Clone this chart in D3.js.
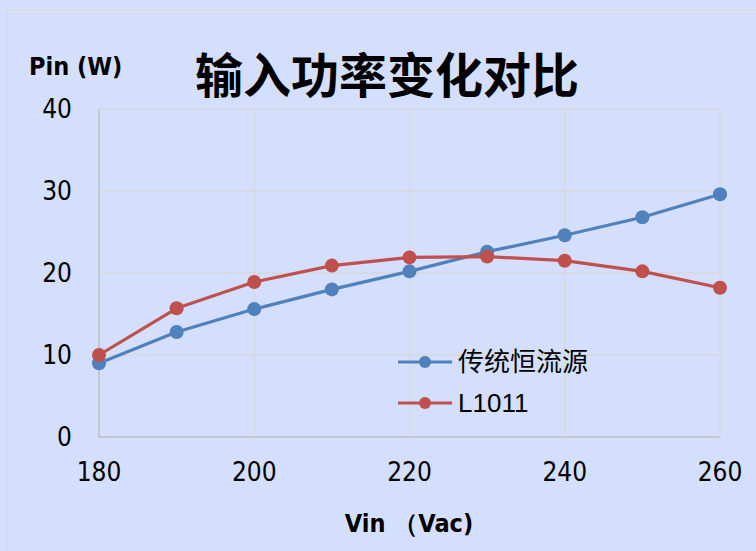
<!DOCTYPE html>
<html><head><meta charset="utf-8">
<script src="https://cdn.jsdelivr.net/npm/d3@7"></script>
<style>body{margin:0;background:#D4DFFD;} svg{display:block;}</style>
</head><body>
<script>
const vin = [180,190,200,210,220,230,240,250,260];
const traditional = [9.0,12.8,15.6,18.0,20.2,22.6,24.6,26.8,29.6];
const l1011 = [10.0,15.7,18.9,20.9,21.9,22.0,21.5,20.2,18.2];
const seriesNames = ["传统恒流源","L1011"];
const xTicks = [180,200,220,240,260];
const yTicks = [0,10,20,30,40];

const W=756,H=551;
const svg=d3.select("body").append("svg").attr("width",W).attr("height",H);
svg.append("rect").attr("width",W).attr("height",H).attr("fill","#D4DFFD");
svg.append("rect").attr("x",7.5).attr("y",9.5).attr("width",760).attr("height",560)
  .attr("fill","none").attr("stroke","#d9d9d9").attr("stroke-width",1);

const x=d3.scaleLinear().domain([180,260]).range([99,720]);
const y=d3.scaleLinear().domain([0,40]).range([437,109]);
const tickFont="'Liberation Sans Narrow','DejaVu Sans Condensed',sans-serif";

const g=svg.append("g");
g.selectAll(".hg").data(yTicks.filter(d=>d>0)).join("line")
  .attr("x1",x(180)).attr("x2",x(260)).attr("y1",d=>y(d)).attr("y2",d=>y(d))
  .attr("stroke","#d9d9d9").attr("stroke-width",1.3);
g.selectAll(".vg").data(xTicks.filter(d=>d>180)).join("line")
  .attr("x1",d=>x(d)).attr("x2",d=>x(d)).attr("y1",y(0)).attr("y2",y(40))
  .attr("stroke","#d9d9d9").attr("stroke-width",1.3);
g.append("line").attr("x1",x(180)).attr("x2",x(180)).attr("y1",y(0)).attr("y2",y(40)).attr("stroke","#bfbfbf").attr("stroke-width",1.5);
g.append("line").attr("x1",x(180)).attr("x2",x(260)).attr("y1",y(0)).attr("y2",y(0)).attr("stroke","#bfbfbf").attr("stroke-width",1.5);

svg.selectAll(".yl").data(yTicks).join("text")
  .attr("x",72).attr("y",d=>y(d)).attr("dy","0.36em").attr("text-anchor","end")
  .attr("font-family",tickFont).attr("font-size",26).attr("fill","#000").text(d=>d);
svg.selectAll(".xl").data(xTicks).join("text")
  .attr("x",d=>x(d)).attr("y",472).attr("dy","0.36em").attr("text-anchor","middle")
  .attr("font-family",tickFont).attr("font-size",26).attr("fill","#000").text(d=>d);

svg.append("text").attr("x",387).attr("y",93).attr("text-anchor","middle")
  .attr("font-family","'Noto Sans CJK SC',sans-serif").attr("font-weight","bold")
  .attr("font-size",48).attr("fill","#000").text("输入功率变化对比");
svg.append("text").attr("x",29).attr("y",75).attr("font-family",tickFont)
  .attr("font-weight","bold").attr("font-size",25).attr("fill","#000").text("Pin (W)");
svg.append("text").attr("x",409).attr("y",532).attr("text-anchor","middle").attr("font-family",tickFont)
  .attr("font-weight","bold").attr("font-size",25).attr("fill","#000").text("Vin （Vac)");

const colors=["#4F81BD","#C0504D"];
const data=[traditional,l1011];
const line=d3.line().x((d,i)=>x(vin[i])).y(d=>y(d));
data.forEach((s,k)=>{
  svg.append("path").datum(s).attr("d",line).attr("fill","none")
    .attr("stroke",colors[k]).attr("stroke-width",3.2).attr("stroke-linejoin","round");
  svg.selectAll(".p"+k).data(s).join("circle")
    .attr("cx",(d,i)=>x(vin[i])).attr("cy",d=>y(d)).attr("r",7).attr("fill",colors[k]);
});

const ly=[362,403];
seriesNames.forEach((n,k)=>{
  svg.append("line").attr("x1",398).attr("x2",452).attr("y1",ly[k]).attr("y2",ly[k])
    .attr("stroke",colors[k]).attr("stroke-width",3.2);
  svg.append("circle").attr("cx",425).attr("cy",ly[k]).attr("r",6).attr("fill",colors[k]);
  svg.append("text").attr("x",458).attr("y",ly[k]).attr("dy","0.36em")
    .attr("font-family",k===0?"'Noto Sans CJK SC',sans-serif":"'Liberation Sans',sans-serif")
    .attr("font-size",26).attr("fill","#000").text(n);
});
</script>
</body></html>
